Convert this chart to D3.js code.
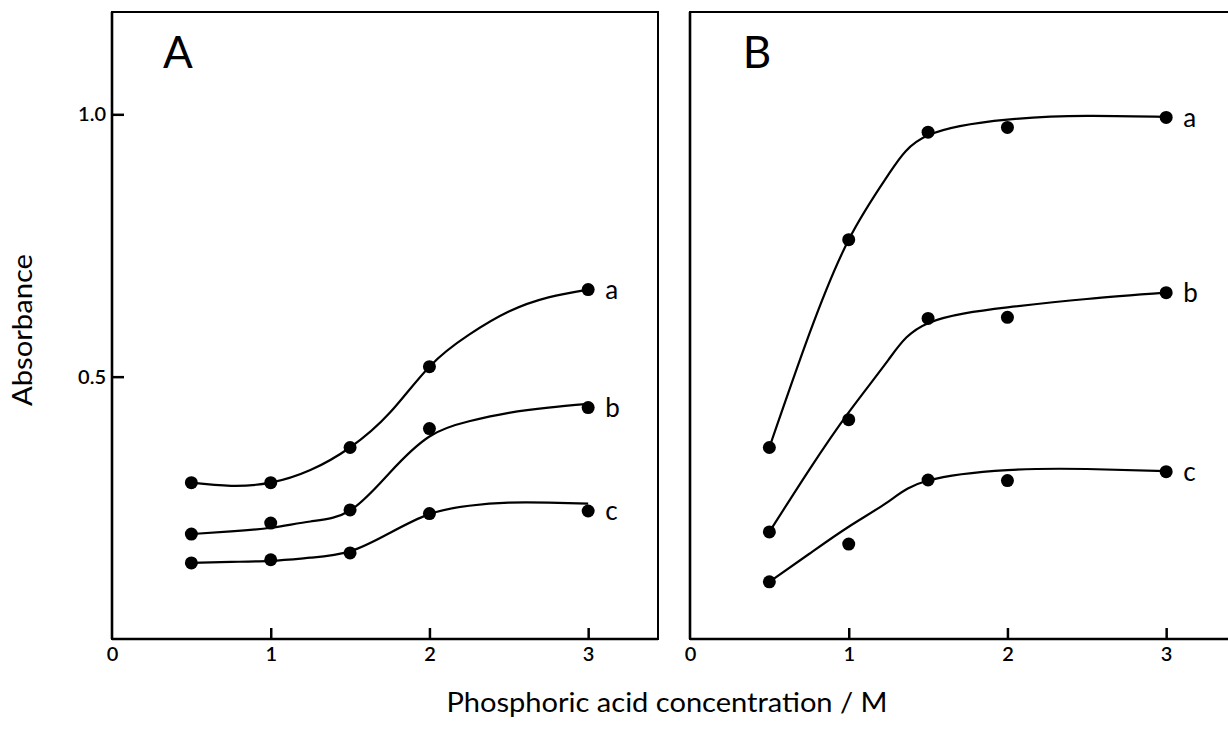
<!DOCTYPE html>
<html lang="en">
<head>
    <meta charset="UTF-8">
    <title>Absorbance vs phosphoric acid concentration</title>
    <script src="https://cdnjs.cloudflare.com/ajax/libs/d3/7.8.5/d3.min.js"></script>
    <style>
        body {
            margin: 0;
            background: #fff;
            font-family: 'Lato', 'DejaVu Sans', sans-serif;
        }
        .frame { fill: none; stroke: #000; stroke-width: 2px; }
        .axis-line { stroke: #000; stroke-width: 2.6px; }
        .fit { fill: none; stroke: #000; stroke-width: 2.2px; }
    </style>
</head>
<body>
<div id="chart"></div>
<script>
// measured concentrations (M)
const conc = [0.5, 1, 1.5, 2, 3];

// panel A, measured absorbance
const aPoints = [0.298, 0.298, 0.365, 0.519, 0.666];
const bPoints = [0.200, 0.221, 0.246, 0.401, 0.441];
const cPoints = [0.145, 0.151, 0.164, 0.239, 0.244];

// panel A, hand drawn curves
const fitXA = [0.5, 0.75, 1, 1.25, 1.5, 1.75, 2, 2.25, 2.5, 2.75, 3];
const aFitA = [0.298, 0.292, 0.298, 0.322, 0.365, 0.431, 0.519, 0.580, 0.624, 0.651, 0.666];
const bFitA = [0.200, 0.205, 0.212, 0.224, 0.245, 0.317, 0.386, 0.415, 0.431, 0.441, 0.448];
const cFitA = [0.145, 0.147, 0.149, 0.155, 0.167, 0.202, 0.238, 0.254, 0.260, 0.260, 0.258];

// panel B, measured absorbance
const aPointsB = [0.365, 0.761, 0.966, 0.975, 0.994];
const bPointsB = [0.204, 0.418, 0.611, 0.613, 0.660];
const cPointsB = [0.109, 0.181, 0.303, 0.302, 0.319];

// panel B curves
const fitXB = [0.5, 0.75, 1, 1.25, 1.5, 2, 2.5, 3];
const aFitB = [0.365, 0.580, 0.761, 0.885, 0.960, 0.990, 0.997, 0.995];
const bFitB = [0.204, 0.322, 0.432, 0.532, 0.602, 0.632, 0.648, 0.660];
const cFitB = [0.109, 0.162, 0.214, 0.262, 0.302, 0.322, 0.324, 0.320];

const seriesNames = ["a", "b", "c"];
const xTicks = [0, 1, 2, 3];
const yTicks = [0.5, 1.0];

const width = 1228, height = 732;

const svg = d3.select("#chart").append("svg")
    .attr("width", width)
    .attr("height", height);

const y = d3.scaleLinear().domain([0, 1.195]).range([639, 12]);

function drawPanel(opts) {
    const x = d3.scaleLinear().domain([0, 3.44]).range([opts.left, opts.left + 546]);
    const g = svg.append("g");

    g.append("rect")
        .attr("class", "frame")
        .attr("x", x(0)).attr("y", y(1.195))
        .attr("width", x(3.44) - x(0))
        .attr("height", y(0) - y(1.195));
    g.append("line").attr("class", "axis-line")
        .attr("x1", x(0)).attr("x2", x(0)).attr("y1", y(1.195)).attr("y2", y(0));
    g.append("line").attr("class", "axis-line")
        .attr("x1", x(0)).attr("x2", x(3.44)).attr("y1", y(0)).attr("y2", y(0));

    // x axis: labels below, tick marks pointing up into the plot
    const xAxis = g.append("g")
        .attr("transform", `translate(0,${y(0)})`)
        .call(d3.axisBottom(x).tickValues(xTicks).tickSizeOuter(0).tickFormat(d3.format("d")));
    xAxis.select(".domain").remove();
    xAxis.selectAll(".tick line")
        .attr("y2", d => d === 0 ? 0 : -11)
        .attr("stroke", "#000")
        .attr("stroke-width", 2.5);
    xAxis.selectAll("text")
        .attr("y", 8)
        .style("font-size", "20px")
        .style("font-weight", "600")
        .style("font-family", "Lato, sans-serif");

    if (opts.yLabels) {
        const yAxis = g.append("g")
            .attr("transform", `translate(${x(0)},0)`)
            .call(d3.axisLeft(y).tickValues(yTicks).tickSizeOuter(0).tickFormat(d3.format(".1f")));
        yAxis.select(".domain").remove();
        yAxis.selectAll(".tick line")
            .attr("x2", 12)
            .attr("stroke", "#000")
            .attr("stroke-width", 2.5);
        yAxis.selectAll("text")
            .attr("x", -6)
            .style("font-size", "20px")
            .style("font-weight", "600")
            .style("font-family", "Lato, sans-serif");
    }

    g.append("text")
        .attr("x", x(0) + opts.letterDx)
        .attr("y", y(1.195) + 56)
        .attr("text-anchor", "middle")
        .style("font-size", "44px")
        .text(opts.title);

    const line = d3.line()
        .x(d => x(d[0]))
        .y(d => y(d[1]))
        .curve(d3.curveNatural);

    opts.fits.forEach(f => {
        g.append("path")
            .attr("class", "fit")
            .attr("d", line(opts.fitX.map((v, i) => [v, f[i]])));
    });

    opts.points.forEach((p, si) => {
        g.selectAll(null)
            .data(conc.map((v, i) => [v, p[i]]))
            .enter().append("circle")
            .attr("cx", d => x(d[0]))
            .attr("cy", d => y(d[1]))
            .attr("r", 6.5)
            .attr("fill", "#000");

        g.append("text")
            .attr("x", x(3) + 17)
            .attr("y", y(p[p.length - 1]))
            .attr("dy", "0.35em")
            .style("font-size", "26px")
            .text(seriesNames[si]);
    });
}

drawPanel({
    left: 112, title: "A", letterDx: 66, yLabels: true,
    points: [aPoints, bPoints, cPoints],
    fitX: fitXA, fits: [aFitA, bFitA, cFitA]
});

drawPanel({
    left: 690, title: "B", letterDx: 67, yLabels: false,
    points: [aPointsB, bPointsB, cPointsB],
    fitX: fitXB, fits: [aFitB, bFitB, cFitB]
});

svg.append("text")
    .attr("x", 667)
    .attr("y", 712)
    .attr("text-anchor", "middle")
    .attr("textLength", 441)
    .attr("lengthAdjust", "spacingAndGlyphs")
    .style("font-size", "26px")
    .text("Phosphoric acid concentration / M");

svg.append("text")
    .attr("transform", "translate(32,330) rotate(-90)")
    .attr("text-anchor", "middle")
    .attr("textLength", 152)
    .attr("lengthAdjust", "spacingAndGlyphs")
    .style("font-size", "26px")
    .text("Absorbance");
</script>
</body>
</html>
